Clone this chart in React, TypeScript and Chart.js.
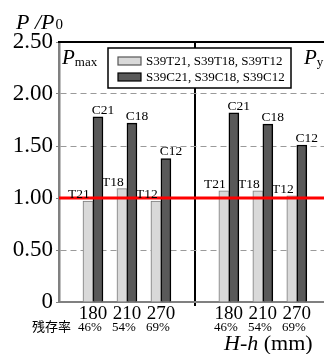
import React, { useEffect, useRef } from 'react';
import { Chart, registerables } from 'chart.js';

Chart.register(...registerables);

// ---- data ----
const lengths = ['180', '210', '270'];
const residualRates = ['46%', '54%', '69%'];
const tLabels = ['T21', 'T18', 'T12'];
const cLabels = ['C21', 'C18', 'C12'];
const pmaxT = [0.97, 1.09, 0.97];
const pmaxC = [1.78, 1.72, 1.38];
const pyT = [1.07, 1.07, 1.02];
const pyC = [1.82, 1.71, 1.51];
const refValue = 1.0;
const legendLabels = ['S39T21, S39T18, S39T12', 'S39C21, S39C18, S39C12'];

const SERIF = "'Liberation Serif', 'Times New Roman', serif";
const LIGHT = '#d9d9d9';
const DARK = '#595959';

// positions along linear x: left group 1..3, divider 4, right group 5..7
const leftPos = lengths.map((_, i) => i + 1);
const rightPos = lengths.map((_, i) => i + 5);
const dividerPos = 4;
const xMax = 7.8;

const tData = [
  ...pmaxT.map((v, i) => ({ x: leftPos[i], y: v })),
  ...pyT.map((v, i) => ({ x: rightPos[i], y: v })),
];
const cData = [
  ...pmaxC.map((v, i) => ({ x: leftPos[i], y: v })),
  ...pyC.map((v, i) => ({ x: rightPos[i], y: v })),
];
const barTextT = [...tLabels, ...tLabels];
const barTextC = [...cLabels, ...cLabels];

const tickLabelFor = (v: number): string => {
  const li = leftPos.indexOf(v);
  if (li >= 0) return lengths[li];
  const ri = rightPos.indexOf(v);
  if (ri >= 0) return lengths[ri];
  return '';
};
const rateFor = (v: number): string => {
  const li = leftPos.indexOf(v);
  if (li >= 0) return residualRates[li];
  const ri = rightPos.indexOf(v);
  if (ri >= 0) return residualRates[ri];
  return '';
};

const decor = {
  id: 'decor',
  afterDatasetsDraw(chart: any) {
    const { ctx, chartArea } = chart;
    ctx.save();
    // top frame
    ctx.strokeStyle = '#000';
    ctx.lineWidth = 2;
    ctx.beginPath();
    ctx.moveTo(chartArea.left - 1, chartArea.top);
    ctx.lineTo(chartArea.right, chartArea.top);
    ctx.stroke();

    // bar labels
    ctx.fillStyle = '#000';
    ctx.font = `13.5px ${SERIF}`;
    ctx.textAlign = 'center';
    ctx.textBaseline = 'alphabetic';
    const metaT = chart.getDatasetMeta(1);
    const metaC = chart.getDatasetMeta(2);
    metaT.data.forEach((el: any, i: number) => {
      ctx.fillText(barTextT[i], el.x - 9, el.y - 3);
    });
    metaC.data.forEach((el: any, i: number) => {
      ctx.fillText(barTextC[i], el.x + 5, el.y - 3);
    });
    ctx.restore();
  },
  afterDraw(chart: any) {
    const { ctx, chartArea, scales } = chart;
    ctx.save();
    ctx.fillStyle = '#000';
    ctx.textBaseline = 'alphabetic';
    ctx.textAlign = 'left';

    // Pmax / Py labels
    ctx.font = `italic 21px ${SERIF}`;
    ctx.fillText('P', chartArea.left + 3, 64);
    let w = ctx.measureText('P').width;
    ctx.font = `13px ${SERIF}`;
    ctx.fillText('max', chartArea.left + 3 + w, 66);
    ctx.font = `italic 21px ${SERIF}`;
    ctx.fillText('P', 304, 64);
    w = ctx.measureText('P').width;
    ctx.font = `13px ${SERIF}`;
    ctx.fillText('y', 304 + w, 66);

    // y title  P /P0
    ctx.font = `italic 22px ${SERIF}`;
    ctx.fillText('P /P', 16, 29);
    w = ctx.measureText('P /P').width;
    ctx.font = `15px ${SERIF}`;
    ctx.fillText('0', 16 + w + 1, 29);

    // x title H-h (mm)
    ctx.font = `italic 22px ${SERIF}`;
    ctx.fillText('H-h', 224, 350);
    w = ctx.measureText('H-h ').width;
    ctx.font = `22px ${SERIF}`;
    ctx.fillText('(mm)', 224 + w, 350);

    // residual rates
    ctx.font = `13px ${SERIF}`;
    ctx.textAlign = 'center';
    [...leftPos, ...rightPos].forEach((v) => {
      ctx.fillText(rateFor(v), scales.x.getPixelForValue(v) - 3, 331);
    });
    ctx.textAlign = 'right';
    ctx.font = `13px 'Noto Sans CJK JP', ${SERIF}`;
    ctx.fillText('残存率', scales.x.getPixelForValue(leftPos[0]) - 22, 331);

    // legend box
    const bx = 108, by = 48, bw = 183, bh = 40;
    ctx.fillStyle = '#fff';
    ctx.fillRect(bx, by, bw, bh);
    ctx.strokeStyle = '#000';
    ctx.lineWidth = 1.5;
    ctx.strokeRect(bx, by, bw, bh);
    const rows = [
      { fill: LIGHT, stroke: '#555', y: 61 },
      { fill: DARK, stroke: '#000', y: 77 },
    ];
    rows.forEach((r, i) => {
      ctx.fillStyle = r.fill;
      ctx.fillRect(118, r.y - 4, 23, 8);
      ctx.strokeStyle = r.stroke;
      ctx.lineWidth = 1.2;
      ctx.strokeRect(118, r.y - 4, 23, 8);
      ctx.fillStyle = '#000';
      ctx.font = `13px ${SERIF}`;
      ctx.textAlign = 'left';
      ctx.textBaseline = 'middle';
      ctx.fillText(legendLabels[i], 146, r.y + 0.5);
    });
    ctx.restore();
  },
};

export default function App() {
  const ref = useRef<HTMLCanvasElement | null>(null);
  useEffect(() => {
    if (!ref.current) return;
    const chart = new Chart(ref.current, {
      type: 'bar',
      data: {
        datasets: [
          {
            type: 'line',
            data: [
              { x: 0, y: refValue },
              { x: xMax, y: refValue },
            ],
            borderColor: '#ff0000',
            borderWidth: 3,
            pointRadius: 0,
            order: 0,
          } as any,
          {
            label: legendLabels[0],
            data: tData,
            backgroundColor: LIGHT,
            borderColor: '#7a7a7a',
            borderWidth: 1,
            borderSkipped: 'bottom',
            barThickness: 10,
            order: 1,
          },
          {
            label: legendLabels[1],
            data: cData,
            backgroundColor: DARK,
            borderColor: '#000',
            borderWidth: 1.5,
            borderSkipped: 'bottom',
            barThickness: 10,
            order: 1,
          },
        ],
      },
      options: {
        animation: false,
        responsive: false,
        devicePixelRatio: 1,
        layout: { padding: { top: 42, right: 0, left: 0, bottom: 0 } },
        plugins: { legend: { display: false }, tooltip: { enabled: false } },
        scales: {
          x: {
            type: 'linear',
            min: 0,
            max: xMax,
            bounds: 'data',
            offset: false,
            afterFit: (s: any) => {
              s.height = 52;
            },
            afterBuildTicks: (s: any) => {
              s.ticks = [...leftPos, dividerPos, ...rightPos]
                .sort((a, b) => a - b)
                .map((v) => ({ value: v }));
            },
            ticks: {
              autoSkip: false,
              maxRotation: 0,
              padding: -3,
              color: '#000',
              font: { family: SERIF, size: 19 },
              callback: (v: any) => tickLabelFor(Number(v)),
            },
            grid: {
              offset: false,
              color: (c: any) => (c.tick && c.tick.value === dividerPos ? '#000' : 'rgba(0,0,0,0)'),
              lineWidth: 2,
              tickLength: 4,
            },
            border: { color: '#808080', width: 2 },
          },
          y: {
            min: 0,
            max: 2.5,
            afterFit: (s: any) => {
              s.width = 59;
            },
            ticks: {
              stepSize: 0.25,
              padding: 3,
              color: '#000',
              font: { family: SERIF, size: 23 },
              callback: (v: any) => {
                const n = Number(v);
                if (Math.abs(n * 2 - Math.round(n * 2)) > 1e-6) return '';
                return n === 0 ? '0' : n.toFixed(2);
              },
            },
            grid: {
              color: (c: any) =>
                c.tick && (c.tick.value === 0 || c.tick.value === 2.5) ? 'rgba(0,0,0,0)' : '#9a9a9a',
              lineWidth: 1,
              tickLength: 3,
              tickColor: '#808080',
              tickBorderDash: [],
            } as any,
            border: { color: '#808080', width: 2.5, dash: [6, 4] },
          },
        },
      },
      plugins: [decor],
    } as any);
    return () => chart.destroy();
  }, []);
  return (
    <div style={{ position: 'absolute', left: 0, top: 0, width: 324, height: 354, background: '#fff' }}>
      <canvas ref={ref} width={324} height={354} style={{ display: 'block' }} />
    </div>
  );
}
